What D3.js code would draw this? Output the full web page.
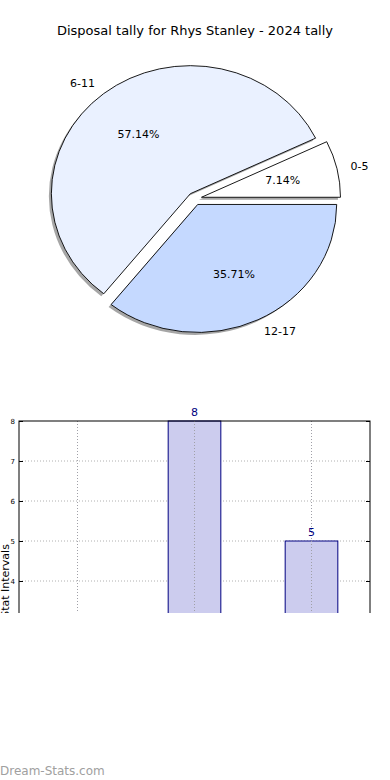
<html>
<head>
  <style type="text/css">
    body { margin: 0; background: #fff; }
    text { font-family: "DejaVu Sans", sans-serif; }
  </style>
</head>
<body>
  <div id="viz"></div>
  <script src="https://cdnjs.cloudflare.com/ajax/libs/d3/7.8.5/d3.min.js"></script>
  <script>
  // data
  const title = 'Disposal tally for Rhys Stanley - 2024 tally';
  const categories = ['0-5', '6-11', '12-17'];
  const counts = [1, 8, 5];
  const sliceColors = ['#ffffff', '#eaf1ff', '#c5d9ff'];
  const yTicks = [0, 1, 2, 3, 4, 5, 6, 7, 8];

  const W = 390, H = 780;
  const svg = d3.select('#viz').append('svg')
    .attr('width', W)
    .attr('height', H);

  // title
  svg.append('text')
    .attr('x', 195)
    .attr('y', 35)
    .attr('text-anchor', 'middle')
    .style('font-size', '13px')
    .text(title);

  // ---- pie (matplotlib style: starts at 3 o'clock, counter clockwise, exploded) ----
  const cx = 194.7, cy = 198.7, rx = 139, ry = 128, explode = 0.05;
  const total = d3.sum(counts);

  const pie = d3.pie().sort(null)
    .startAngle(Math.PI / 2)
    .endAngle(Math.PI / 2 - 2 * Math.PI);
  const arcs = pie(counts);

  const unitArc = d3.arc().innerRadius(0).outerRadius(1);

  // shift along the mid angle, in ellipse coords
  const pt = (a, k) => [k * rx * Math.sin(a), -k * ry * Math.cos(a)];

  const pieG = svg.append('g');

  arcs.forEach((d, i) => {
    const mid = (d.startAngle + d.endAngle) / 2;
    const off = pt(mid, explode);
    const ox = cx + off[0], oy = cy + off[1];

    // shadow
    pieG.append('path')
      .attr('d', unitArc(d))
      .attr('transform', 'translate(' + (ox - 2.5) + ',' + (oy + 2.5) + ') scale(' + rx + ',' + ry + ')')
      .attr('fill', '#4d4d4d')
      .attr('fill-opacity', 0.5);
  });

  arcs.forEach((d, i) => {
    const mid = (d.startAngle + d.endAngle) / 2;
    const off = pt(mid, explode);
    const ox = cx + off[0], oy = cy + off[1];

    pieG.append('path')
      .attr('d', unitArc(d))
      .attr('transform', 'translate(' + ox + ',' + oy + ') scale(' + rx + ',' + ry + ')')
      .attr('fill', sliceColors[i])
      .attr('stroke', '#000')
      .attr('stroke-width', 0.9)
      .attr('vector-effect', 'non-scaling-stroke');

    const lp = pt(mid, 1.1);
    pieG.append('text')
      .attr('x', ox + lp[0])
      .attr('y', oy + lp[1])
      .attr('dy', '0.35em')
      .attr('text-anchor', lp[0] > 0 ? 'start' : 'end')
      .style('font-size', '11px')
      .text(categories[i]);

    const pp = pt(mid, 0.6);
    pieG.append('text')
      .attr('x', ox + pp[0])
      .attr('y', oy + pp[1])
      .attr('dy', '0.35em')
      .attr('text-anchor', 'middle')
      .style('font-size', '11px')
      .text((counts[i] / total * 100).toFixed(2) + '%');
  });

  // ---- bar chart (cropped at the bottom like the source image) ----
  const plotLeft = 19, plotRight = 370, plotTop = 421, plotBottom = 741;

  svg.append('defs').append('clipPath').attr('id', 'crop')
    .append('rect').attr('x', -10).attr('y', 0).attr('width', W + 10).attr('height', 613);

  const barG = svg.append('g').attr('clip-path', 'url(#crop)');

  const x = d3.scaleBand().domain(categories).range([plotLeft, plotRight]).padding(0);
  const y = d3.scaleLinear().domain([0, 8]).range([plotBottom, plotTop]);
  const barW = x.bandwidth() * 0.45;

  // horizontal grid
  barG.append('g').selectAll('line').data(yTicks.filter(t => t > 0 && t < 8)).enter().append('line')
    .attr('x1', plotLeft).attr('x2', plotRight)
    .attr('y1', d => y(d)).attr('y2', d => y(d))
    .attr('stroke', '#b0b0b0')
    .attr('stroke-dasharray', '1,2');

  // bars
  barG.append('g').selectAll('rect').data(counts).enter().append('rect')
    .attr('x', (d, i) => x(categories[i]) + (x.bandwidth() - barW) / 2)
    .attr('y', d => y(d))
    .attr('width', barW)
    .attr('height', d => plotBottom - y(d))
    .attr('fill', '#ccccee')
    .attr('stroke', '#000080')
    .attr('stroke-width', 1);

  // vertical grid, over the bars
  barG.append('g').selectAll('line').data(categories).enter().append('line')
    .attr('x1', d => x(d) + x.bandwidth() / 2)
    .attr('x2', d => x(d) + x.bandwidth() / 2)
    .attr('y1', plotTop).attr('y2', plotBottom)
    .attr('stroke', '#a0a0a8')
    .attr('stroke-dasharray', '1,2');

  // value labels
  barG.append('g').selectAll('text').data(counts).enter().append('text')
    .attr('x', (d, i) => x(categories[i]) + x.bandwidth() / 2)
    .attr('y', d => y(d) - 5)
    .attr('text-anchor', 'middle')
    .attr('fill', '#000080')
    .style('font-size', '11px')
    .text(d => d);

  // axes frame
  barG.append('rect')
    .attr('x', plotLeft).attr('y', plotTop)
    .attr('width', plotRight - plotLeft).attr('height', plotBottom - plotTop)
    .attr('fill', 'none')
    .attr('stroke', '#000')
    .attr('stroke-width', 1);

  // y axis
  const yAxis = d3.axisLeft(y).tickValues(yTicks).tickSize(-4).tickPadding(4);
  const yg = barG.append('g')
    .attr('transform', 'translate(' + plotLeft + ',0)')
    .call(yAxis);
  yg.select('.domain').remove();
  yg.selectAll('text').style('font-size', '7px').style('font-family', '"DejaVu Sans", sans-serif');

  const yAxisR = d3.axisRight(y).tickValues(yTicks).tickSize(-4).tickFormat('');
  const yr = barG.append('g')
    .attr('transform', 'translate(' + plotRight + ',0)')
    .call(yAxisR);
  yr.select('.domain').remove();

  // y label: sits partly past the left edge and below the crop, as in the source
  barG.append('text')
    .attr('transform', 'translate(9,' + ((plotTop + plotBottom) / 2) + ') rotate(-90)')
    .attr('text-anchor', 'middle')
    .style('font-size', '11px')
    .text('Stat Intervals');

  // watermark
  svg.append('text')
    .attr('x', 0)
    .attr('y', 775)
    .attr('fill', '#a0a0a0')
    .style('font-size', '12px')
    .text('Dream-Stats.com');
  </script>
</body>
</html>
